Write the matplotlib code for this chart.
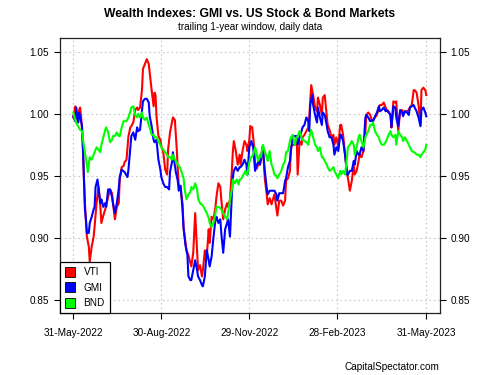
import matplotlib
matplotlib.use("Agg")
import matplotlib.pyplot as plt
import matplotlib.dates as mdates
from matplotlib.lines import Line2D
import pandas as pd

plt.rcParams['font.family'] = ['Liberation Sans', 'DejaVu Sans']

start_date = "2022-05-31"
tick_dates = ["2022-05-31", "2022-08-30", "2022-11-29", "2023-02-28", "2023-05-31"]
y_ticks = [0.85, 0.90, 0.95, 1.00, 1.05]
series_names = ["VTI", "GMI", "BND"]
series_colors = ["#ff0000", "#0000ff", "#00ff00"]

# (calendar day offset from start_date, wealth index)
vti_points = [(0,0.997),(2,1.006),(5,0.993),(6,1.003),(7,1.005),(8,0.998),(9,0.987),(10,0.971),(11,0.947),(12,0.928),(14,0.901),(16,0.893),(17,0.881),(19,0.893),(21,0.901),(22,0.909),(24,0.928),(26,0.941),(28,0.925),(29,0.912),(31,0.918),(33,0.923),(36,0.933),(38,0.939),(40,0.936),(41,0.928),(43,0.915),(45,0.925),(47,0.928),(48,0.947),(50,0.957),(52,0.958),(53,0.961),(55,0.963),(57,0.982),(59,0.989),(60,0.990),(62,0.993),(64,1.003),(66,1.005),(67,1.003),(69,1.005),(71,1.019),(72,1.036),(74,1.040),(76,1.044),(78,1.040),(79,1.033),(81,1.019),(83,1.006),(84,1.017),(85,1.015),(86,0.998),(88,0.982),(90,0.979),(91,0.974),(93,0.969),(95,0.955),(97,0.951),(98,0.971),(100,0.985),(102,0.993),(103,0.997),(105,0.995),(107,0.971),(108,0.955),(109,0.943),(111,0.939),(113,0.927),(114,0.908),(117,0.890),(119,0.886),(121,0.880),(122,0.877),(124,0.888),(126,0.920),(128,0.890),(129,0.874),(131,0.878),(133,0.869),(134,0.874),(136,0.890),(138,0.885),(140,0.907),(141,0.896),(143,0.917),(145,0.915),(147,0.925),(148,0.933),(150,0.944),(152,0.941),(153,0.931),(155,0.915),(157,0.923),(159,0.928),(160,0.925),(162,0.931),(164,0.955),(165,0.970),(166,0.978),(168,0.970),(170,0.959),(172,0.967),(173,0.959),(175,0.970),(177,0.978),(179,0.975),(180,0.970),(182,0.979),(183,0.990),(185,0.989),(187,0.973),(188,0.959),(190,0.956),(192,0.962),(193,0.959),(195,0.970),(196,0.974),(198,0.948),(200,0.935),(201,0.927),(203,0.932),(205,0.927),(206,0.930),(208,0.935),(210,0.924),(211,0.918),(213,0.930),(215,0.930),(217,0.926),(219,0.930),(220,0.946),(222,0.948),(224,0.954),(225,0.973),(227,0.975),(229,0.975),(231,0.981),(232,0.951),(234,0.978),(236,0.975),(237,0.981),(239,0.983),(241,0.986),(243,0.989),(244,0.997),(246,1.023),(248,1.015),(250,1.005),(252,1.002),(253,1.013),(255,1.007),(257,0.999),(258,1.013),(260,1.015),(262,0.999),(263,0.991),(265,0.987),(267,0.981),(269,0.983),(270,0.975),(272,0.981),(274,0.973),(276,0.991),(277,0.991),(279,0.983),(281,0.967),(283,0.954),(284,0.948),(286,0.938),(288,0.946),(290,0.959),(291,0.951),(293,0.954),(295,0.962),(296,0.967),(298,0.965),(300,0.970),(302,0.986),(303,0.999),(305,1.001),(307,0.999),(309,0.994),(310,0.995),(312,0.997),(314,0.999),(316,1.005),(317,1.007),(319,1.007),(321,1.009),(323,1.005),(324,1.003),(326,1.002),(328,0.999),(329,0.989),(331,1.010),(333,1.009),(334,1.010),(336,0.986),(338,1.002),(340,1.003),(341,1.001),(343,1.002),(345,1.002),(347,1.003),(348,1.005),(350,1.007),(352,1.019),(353,1.019),(355,1.017),(357,1.007),(359,0.991),(360,1.019),(362,1.021),(364,1.019),(365,1.015)]

gmi_points = [(0,0.998),(2,0.994),(3,1.005),(4,0.999),(5,0.993),(6,1.001),(7,0.998),(9,0.990),(10,0.971),(11,0.947),(12,0.923),(13,0.915),(14,0.904),(16,0.904),(17,0.912),(19,0.917),(21,0.923),(22,0.925),(23,0.941),(25,0.947),(26,0.941),(28,0.928),(29,0.931),(31,0.925),(33,0.928),(34,0.925),(36,0.939),(38,0.939),(40,0.933),(41,0.928),(43,0.920),(45,0.928),(47,0.940),(48,0.949),(50,0.955),(53,0.953),(56,0.949),(57,0.955),(59,0.973),(60,0.982),(62,0.985),(64,0.979),(66,0.989),(67,0.986),(69,0.987),(71,1.002),(72,1.010),(74,1.012),(76,1.012),(78,1.009),(79,0.998),(81,0.990),(83,0.979),(84,0.977),(86,0.979),(88,0.963),(90,0.955),(91,0.949),(93,0.944),(95,0.941),(97,0.941),(99,0.939),(100,0.953),(102,0.961),(103,0.969),(106,0.953),(108,0.946),(109,0.938),(111,0.942),(113,0.922),(114,0.908),(116,0.894),(118,0.886),(119,0.869),(121,0.866),(122,0.866),(124,0.874),(126,0.882),(128,0.874),(129,0.869),(131,0.866),(133,0.862),(134,0.861),(136,0.869),(138,0.890),(140,0.882),(141,0.877),(143,0.885),(145,0.901),(147,0.915),(148,0.917),(150,0.912),(152,0.915),(153,0.904),(155,0.888),(157,0.907),(159,0.912),(160,0.915),(162,0.901),(164,0.936),(165,0.949),(166,0.954),(168,0.957),(170,0.954),(172,0.957),(173,0.957),(175,0.959),(177,0.963),(179,0.959),(180,0.951),(182,0.973),(184,0.978),(186,0.973),(188,0.954),(189,0.957),(191,0.961),(193,0.959),(194,0.963),(196,0.973),(198,0.954),(200,0.940),(201,0.935),(203,0.938),(205,0.938),(206,0.938),(208,0.938),(210,0.935),(211,0.930),(213,0.936),(215,0.936),(217,0.936),(219,0.946),(220,0.948),(222,0.957),(224,0.962),(225,0.970),(227,0.982),(229,0.982),(231,0.982),(232,0.975),(234,0.981),(236,0.986),(237,0.989),(239,0.991),(241,0.997),(243,0.994),(244,0.986),(245,1.007),(247,1.015),(248,1.007),(250,0.999),(252,0.993),(253,1.005),(255,0.997),(257,0.991),(258,1.001),(260,0.999),(262,0.991),(263,0.986),(265,0.981),(267,0.981),(269,0.975),(270,0.967),(272,0.973),(274,0.970),(276,0.983),(277,0.983),(279,0.978),(281,0.967),(283,0.951),(284,0.951),(286,0.954),(288,0.954),(290,0.962),(291,0.959),(293,0.970),(295,0.967),(296,0.967),(298,0.973),(300,0.970),(302,0.997),(303,0.999),(305,0.997),(307,0.994),(309,0.995),(310,0.994),(312,0.998),(314,1.001),(316,1.006),(317,1.002),(319,1.003),(321,1.005),(323,1.002),(324,1.003),(326,1.001),(328,0.999),(329,0.989),(331,1.006),(333,1.005),(334,0.997),(336,0.990),(338,1.003),(340,1.001),(341,0.998),(343,1.002),(345,1.001),(347,0.999),(348,1.005),(350,1.006),(352,1.007),(353,1.005),(355,1.002),(357,0.997),(359,0.990),(360,1.003),(362,1.005),(364,1.001),(365,0.998)]

bnd_points = [(0,1.001),(2,0.995),(4,0.991),(5,0.990),(7,0.987),(9,0.986),(10,0.979),(12,0.969),(14,0.959),(15,0.953),(17,0.965),(19,0.963),(21,0.967),(22,0.969),(24,0.973),(26,0.971),(28,0.969),(29,0.975),(31,0.981),(33,0.987),(34,0.989),(36,0.985),(38,0.977),(40,0.979),(41,0.982),(43,0.982),(45,0.985),(47,0.982),(48,0.982),(50,0.989),(52,0.994),(53,0.994),(55,0.994),(57,0.997),(59,1.002),(60,1.005),(62,1.006),(64,0.999),(66,0.997),(67,1.000),(69,0.997),(71,1.001),(72,0.997),(74,0.995),(76,0.997),(78,0.991),(79,0.989),(81,0.983),(83,0.983),(84,0.981),(86,0.981),(88,0.978),(90,0.975),(91,0.973),(93,0.971),(95,0.969),(97,0.967),(98,0.965),(100,0.965),(102,0.963),(103,0.967),(105,0.963),(107,0.961),(109,0.958),(110,0.957),(112,0.953),(114,0.948),(115,0.940),(117,0.931),(119,0.935),(121,0.937),(122,0.941),(124,0.939),(126,0.944),(128,0.939),(129,0.932),(131,0.928),(134,0.926),(138,0.920),(140,0.916),(141,0.912),(143,0.909),(145,0.912),(147,0.920),(148,0.925),(150,0.925),(152,0.924),(153,0.923),(155,0.920),(157,0.917),(159,0.915),(160,0.919),(162,0.931),(164,0.939),(165,0.947),(167,0.944),(169,0.947),(171,0.943),(172,0.947),(174,0.948),(176,0.951),(178,0.954),(179,0.951),(180,0.951),(182,0.961),(184,0.965),(186,0.967),(188,0.973),(189,0.970),(191,0.962),(193,0.967),(194,0.965),(196,0.975),(198,0.970),(200,0.965),(201,0.962),(203,0.970),(205,0.959),(206,0.957),(208,0.951),(210,0.950),(211,0.948),(213,0.951),(215,0.954),(217,0.959),(219,0.962),(220,0.969),(222,0.970),(224,0.978),(225,0.981),(227,0.983),(229,0.975),(231,0.981),(232,0.982),(234,0.986),(236,0.981),(237,0.979),(239,0.978),(241,0.977),(243,0.975),(244,0.981),(246,0.987),(248,0.981),(250,0.975),(252,0.973),(253,0.970),(255,0.973),(257,0.965),(258,0.965),(260,0.962),(262,0.959),(263,0.957),(265,0.954),(267,0.955),(269,0.957),(270,0.954),(272,0.951),(274,0.948),(276,0.954),(277,0.951),(279,0.954),(281,0.951),(283,0.965),(284,0.973),(286,0.975),(288,0.978),(290,0.975),(291,0.967),(293,0.973),(295,0.981),(296,0.983),(298,0.978),(300,0.973),(302,0.981),(303,0.983),(305,0.986),(307,0.991),(309,0.991),(310,0.993),(312,0.986),(314,0.983),(316,0.981),(317,0.978),(319,0.975),(321,0.975),(323,0.977),(324,0.979),(326,0.983),(328,0.986),(329,0.983),(331,0.981),(333,0.983),(334,0.975),(336,0.986),(338,0.983),(340,0.981),(341,0.978),(343,0.981),(345,0.978),(347,0.975),(348,0.973),(350,0.970),(352,0.969),(353,0.969),(355,0.967),(357,0.967),(359,0.965),(360,0.967),(362,0.969),(364,0.971),(365,0.975)]

t0 = pd.Timestamp(start_date)

def to_series(points):
    days = [p[0] for p in points]
    vals = [p[1] for p in points]
    return [t0 + pd.Timedelta(days=d) for d in days], vals

fig = plt.figure(figsize=(5.0, 3.75), dpi=100)
ax = fig.add_axes([0.119, 0.1653, 0.761, 0.7334])

for pts, name, col in zip([vti_points, gmi_points, bnd_points], series_names, series_colors):
    x, y = to_series(pts)
    ax.plot(x, y, color=col, lw=1.5, label=name, solid_joinstyle='round')

ticks = [pd.Timestamp(d) for d in tick_dates]
ax.set_xticks(ticks)
ax.xaxis.set_major_formatter(mdates.DateFormatter("%d-%b-%Y"))
ax.set_xlim(t0 - pd.Timedelta(days=14.3), pd.Timestamp(tick_dates[-1]) + pd.Timedelta(days=14.2))
ax.set_ylim(0.8395, 1.061)
ax.set_yticks(y_ticks)
ax.set_yticklabels([f"{v:.2f}" for v in y_ticks])

ax.grid(True, color="#c8c8c8", linestyle=(0, (1.5, 2.5)), linewidth=0.8)
ax.set_axisbelow(True)
ax.tick_params(axis='x', direction='out', length=4, width=0.8, pad=7, labelsize=7.2, colors='black')
ax.tick_params(axis='y', direction='out', length=4.5, width=0.8, pad=3, labelsize=7.2,
               left=True, right=True, labelleft=True, labelright=True)
for s in ax.spines.values():
    s.set_linewidth(0.9)
    s.set_color('#222222')

handles = [Line2D([], [], linestyle='none', marker='s', markersize=6.5, markerfacecolor=c,
                  markeredgecolor='black', markeredgewidth=0.6) for c in series_colors]
leg = ax.legend(handles, series_names, loc='lower left', bbox_to_anchor=(0, 0), borderaxespad=0,
                fancybox=False, framealpha=1, edgecolor='black', fontsize=7.2,
                handlelength=1.0, handletextpad=0.9, borderpad=0.5, labelspacing=0.55)
leg.get_frame().set_linewidth(0.9)

fig.text(0.5, 1 - 14 / 375, "Wealth Indexes: GMI vs. US Stock & Bond Markets", ha='center', va='center',
         fontsize=8.7, fontweight='bold')
fig.text(0.5, 1 - 27 / 375, "trailing 1-year window, daily data", ha='center', va='center', fontsize=7.2)
fig.text(439 / 500, 1 - 367 / 375, "CapitalSpectator.com", ha='right', va='center', fontsize=7.2)

fig.savefig("out.png", dpi=100)
